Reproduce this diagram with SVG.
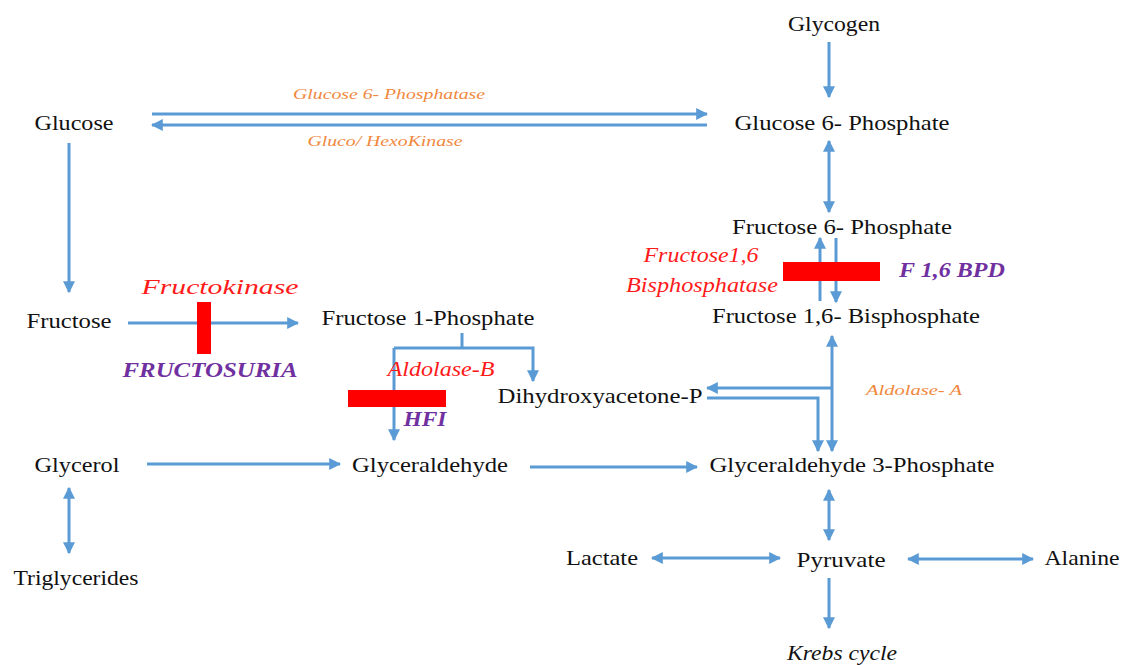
<svg xmlns="http://www.w3.org/2000/svg" width="1123" height="665" viewBox="0 0 1123 665">
<style>
.lbl{font-size:21px;fill:#111;text-anchor:middle}
.enz{font-style:italic;font-size:15px;fill:#F0883E;text-anchor:middle}
.red{font-style:italic;font-size:20px;fill:#FF1A1A;text-anchor:middle}
.dis{font-style:italic;font-weight:bold;font-size:21px;fill:#7030A0;text-anchor:middle}
.c{fill:none;stroke:#5B9BD5;stroke-width:3}
.bar{fill:#FF0000}
</style>
<defs>
<marker id="ah" viewBox="0 0 10 10" refX="9" refY="5" markerWidth="12" markerHeight="12" markerUnits="userSpaceOnUse" orient="auto-start-reverse">
<path d="M0,0 L10,5 L0,10 z" fill="#5B9BD5"/>
</marker>
</defs>
<rect width="1123" height="665" fill="#fff"/>
<g id="connectors">
<path class="c" d="M152,114 H707" marker-end="url(#ah)"/>
<path class="c" d="M707,125 H152" marker-end="url(#ah)"/>
<path class="c" d="M69,143 V292" marker-end="url(#ah)"/>
<path class="c" d="M829,42 V97" marker-end="url(#ah)"/>
<path class="c" d="M829,141 V212" marker-start="url(#ah)" marker-end="url(#ah)"/>
<path class="c" d="M820,301 V238" marker-end="url(#ah)"/>
<path class="c" d="M836,238 V302" marker-end="url(#ah)"/>
<path class="c" d="M128,323 H298" marker-end="url(#ah)"/>
<path class="c" d="M462,333 V348"/>
<path class="c" d="M394,348 H533 V381" marker-end="url(#ah)"/>
<path class="c" d="M394,348 V440" marker-end="url(#ah)"/>
<path class="c" d="M832,336 V451" marker-start="url(#ah)" marker-end="url(#ah)"/>
<path class="c" d="M832,388 H707" marker-end="url(#ah)"/>
<path class="c" d="M707,398 H818 V451" marker-end="url(#ah)"/>
<path class="c" d="M147,464 H340" marker-end="url(#ah)"/>
<path class="c" d="M530,467 H697" marker-end="url(#ah)"/>
<path class="c" d="M69,488 V553" marker-start="url(#ah)" marker-end="url(#ah)"/>
<path class="c" d="M829,490 V540" marker-start="url(#ah)" marker-end="url(#ah)"/>
<path class="c" d="M652,558 H780" marker-start="url(#ah)" marker-end="url(#ah)"/>
<path class="c" d="M908,559 H1033" marker-start="url(#ah)" marker-end="url(#ah)"/>
<path class="c" d="M829,578 V628" marker-end="url(#ah)"/>
</g>
<g id="blocks">
<rect class="bar" x="197" y="302" width="14" height="52"/>
<rect class="bar" x="783" y="262" width="97" height="19"/>
<rect class="bar" x="348" y="390" width="98" height="17"/>
</g>
<g font-family="Liberation Serif, Times New Roman, Times, serif">
<g id="glycogen"><text class="lbl" x="834" y="31" textLength="92" lengthAdjust="spacingAndGlyphs">Glycogen</text></g>
<g id="glucose"><text class="lbl" x="74" y="130" textLength="79" lengthAdjust="spacingAndGlyphs">Glucose</text></g>
<g id="g6p"><text class="lbl" x="842" y="130" textLength="215" lengthAdjust="spacingAndGlyphs">Glucose 6- Phosphate</text></g>
<g id="f6p"><text class="lbl" x="842" y="234" textLength="220" lengthAdjust="spacingAndGlyphs">Fructose 6- Phosphate</text></g>
<g id="f16bp"><text class="lbl" x="846" y="323" textLength="268" lengthAdjust="spacingAndGlyphs">Fructose 1,6- Bisphosphate</text></g>
<g id="fructose"><text class="lbl" x="69" y="328" textLength="85" lengthAdjust="spacingAndGlyphs">Fructose</text></g>
<g id="f1p"><text class="lbl" x="428" y="325" textLength="213" lengthAdjust="spacingAndGlyphs">Fructose 1-Phosphate</text></g>
<g id="dhap"><text class="lbl" x="600" y="403" textLength="205" lengthAdjust="spacingAndGlyphs">Dihydroxyacetone-P</text></g>
<g id="glycerol"><text class="lbl" x="77" y="472" textLength="85" lengthAdjust="spacingAndGlyphs">Glycerol</text></g>
<g id="glyceraldehyde"><text class="lbl" x="430" y="472" textLength="156" lengthAdjust="spacingAndGlyphs">Glyceraldehyde</text></g>
<g id="g3p"><text class="lbl" x="852" y="472" textLength="285" lengthAdjust="spacingAndGlyphs">Glyceraldehyde 3-Phosphate</text></g>
<g id="triglycerides"><text class="lbl" x="76" y="585" textLength="125" lengthAdjust="spacingAndGlyphs">Triglycerides</text></g>
<g id="lactate"><text class="lbl" x="602" y="565" textLength="72" lengthAdjust="spacingAndGlyphs">Lactate</text></g>
<g id="pyruvate"><text class="lbl" x="841" y="567" textLength="89" lengthAdjust="spacingAndGlyphs">Pyruvate</text></g>
<g id="alanine"><text class="lbl" x="1082" y="565" textLength="75" lengthAdjust="spacingAndGlyphs">Alanine</text></g>
<g id="krebs"><text class="lbl" x="842" y="660" font-style="italic" textLength="110" lengthAdjust="spacingAndGlyphs">Krebs cycle</text></g>
<g id="labels">
<text class="enz" x="389" y="99" textLength="192" lengthAdjust="spacingAndGlyphs">Glucose 6- Phosphatase</text>
<text class="enz" x="385" y="146" textLength="155" lengthAdjust="spacingAndGlyphs">Gluco/ HexoKinase</text>
<text class="enz" x="914" y="395" textLength="96" lengthAdjust="spacingAndGlyphs">Aldolase- A</text>
<text class="red" x="220" y="294" textLength="157" lengthAdjust="spacingAndGlyphs">Fructokinase</text>
<text class="red" x="441" y="376" textLength="107" lengthAdjust="spacingAndGlyphs">Aldolase-B</text>
<text class="red" x="701" y="262" textLength="115" lengthAdjust="spacingAndGlyphs">Fructose1,6</text>
<text class="red" x="702" y="292" textLength="152" lengthAdjust="spacingAndGlyphs">Bisphosphatase</text>
<text class="dis" x="210" y="377" textLength="175" lengthAdjust="spacingAndGlyphs">FRUCTOSURIA</text>
<text class="dis" x="425" y="426" textLength="43" lengthAdjust="spacingAndGlyphs">HFI</text>
<text class="dis" x="952" y="277" textLength="106" lengthAdjust="spacingAndGlyphs">F 1,6 BPD</text>
</g>
</g>
</svg>
